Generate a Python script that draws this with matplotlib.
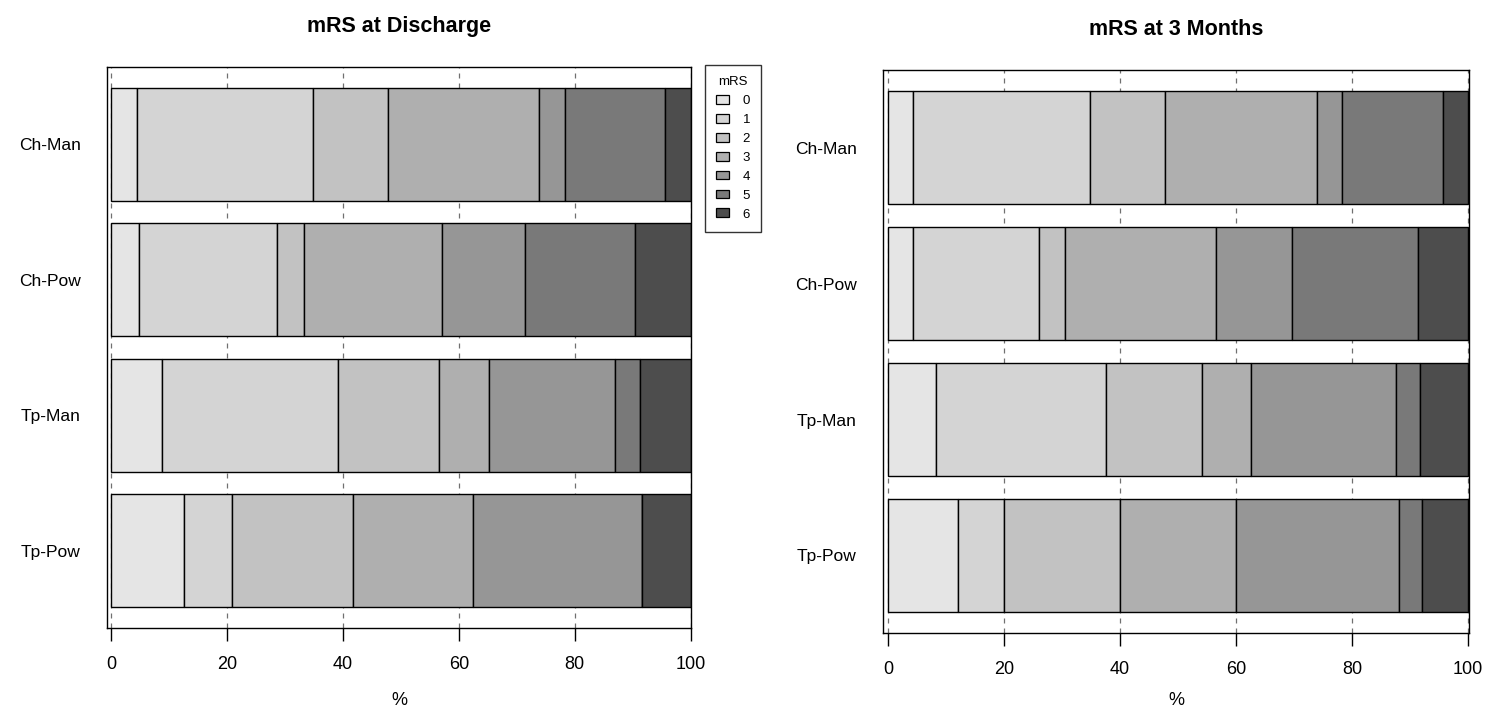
import numpy as np
import matplotlib
matplotlib.use("Agg")
import matplotlib.pyplot as plt
from matplotlib.patches import Patch

plt.rcParams["font.family"] = ["Liberation Sans", "DejaVu Sans"]

# groups, top to bottom
groups = ["Ch-Man", "Ch-Pow", "Tp-Man", "Tp-Pow"]
mrs_levels = ["0", "1", "2", "3", "4", "5", "6"]
grays = ["#e5e5e5", "#d4d4d4", "#c2c2c2", "#afafaf", "#969696", "#797979", "#4d4d4d"]

# percent of patients per mRS score (0..6)
discharge_ch_man = [4.35, 30.43, 13.04, 26.09, 4.35, 17.39, 4.35]
discharge_ch_pow = [4.76, 23.81, 4.76, 23.81, 14.29, 19.05, 9.52]
discharge_tp_man = [8.70, 30.43, 17.39, 8.70, 21.74, 4.35, 8.69]
discharge_tp_pow = [12.50, 8.33, 20.83, 20.83, 29.17, 0.0, 8.34]

month3_ch_man = [4.35, 30.43, 13.04, 26.09, 4.35, 17.39, 4.35]
month3_ch_pow = [4.35, 21.74, 4.35, 26.09, 13.04, 21.74, 8.69]
month3_tp_man = [8.33, 29.17, 16.67, 8.33, 25.00, 4.17, 8.33]
month3_tp_pow = [12.0, 8.0, 20.0, 20.0, 28.0, 4.0, 8.0]

x_ticks = [0, 20, 40, 60, 80, 100]


def stacked_panel(ax, rows, title, xlim, xlabel_pad):
    data = np.array(rows)
    # R barplot layout: width 1, space 0.2
    centers = 0.7 + 1.2 * np.arange(len(groups))
    for xv in x_ticks:
        ax.axvline(xv, color="#707070", lw=0.9, ls=(0, (4, 4)), zorder=0)
    left = np.zeros(len(groups))
    for j in range(data.shape[1]):
        ax.barh(centers, data[:, j], height=1.0, left=left, color=grays[j],
                edgecolor="black", linewidth=1.0, zorder=2)
        left += data[:, j]
    ax.set_ylim(4.984, 0.016)
    ax.set_xlim(*xlim)
    ax.set_yticks(centers)
    ax.set_yticklabels(groups, fontsize=12.5)
    ax.tick_params(axis="y", length=0, pad=19)
    ax.set_xticks(x_ticks)
    ax.set_xticklabels([str(v) for v in x_ticks], fontsize=13)
    ax.tick_params(axis="x", length=9, width=1, pad=11, direction="out")
    ax.set_xlabel("%", fontsize=13, labelpad=xlabel_pad)
    ax.set_title(title, fontsize=15.5, fontweight="bold", pad=25)
    for s in ax.spines.values():
        s.set_linewidth(1.0)
        s.set_color("black")


fig = plt.figure(figsize=(14.85, 7.11), dpi=100)
ax1 = fig.add_axes([0.0721, 0.1167, 0.3933, 0.789])
ax2 = fig.add_axes([0.5946, 0.1097, 0.3946, 0.7918])

stacked_panel(ax1, [discharge_ch_man, discharge_ch_pow, discharge_tp_man, discharge_tp_pow],
              "mRS at Discharge", (-0.76, 100.1), 14)
stacked_panel(ax2, [month3_ch_man, month3_ch_pow, month3_tp_man, month3_tp_pow],
              "mRS at 3 Months", (-0.86, 100.14), 10)

handles = [Patch(facecolor=c, edgecolor="black", linewidth=0.9) for c in grays]
leg = fig.legend(handles, mrs_levels, title="mRS", loc="upper left",
                 bbox_to_anchor=(705 / 1485, 1 - 65 / 711), fontsize=9.5,
                 title_fontsize=9.5, frameon=True, fancybox=False,
                 handlelength=1.0, handleheight=0.65, handletextpad=1.0,
                 labelspacing=0.52, borderpad=0.85, borderaxespad=0)
leg.get_frame().set_edgecolor("black")
leg.get_frame().set_linewidth(1.0)

fig.savefig("out.png", dpi=100)
